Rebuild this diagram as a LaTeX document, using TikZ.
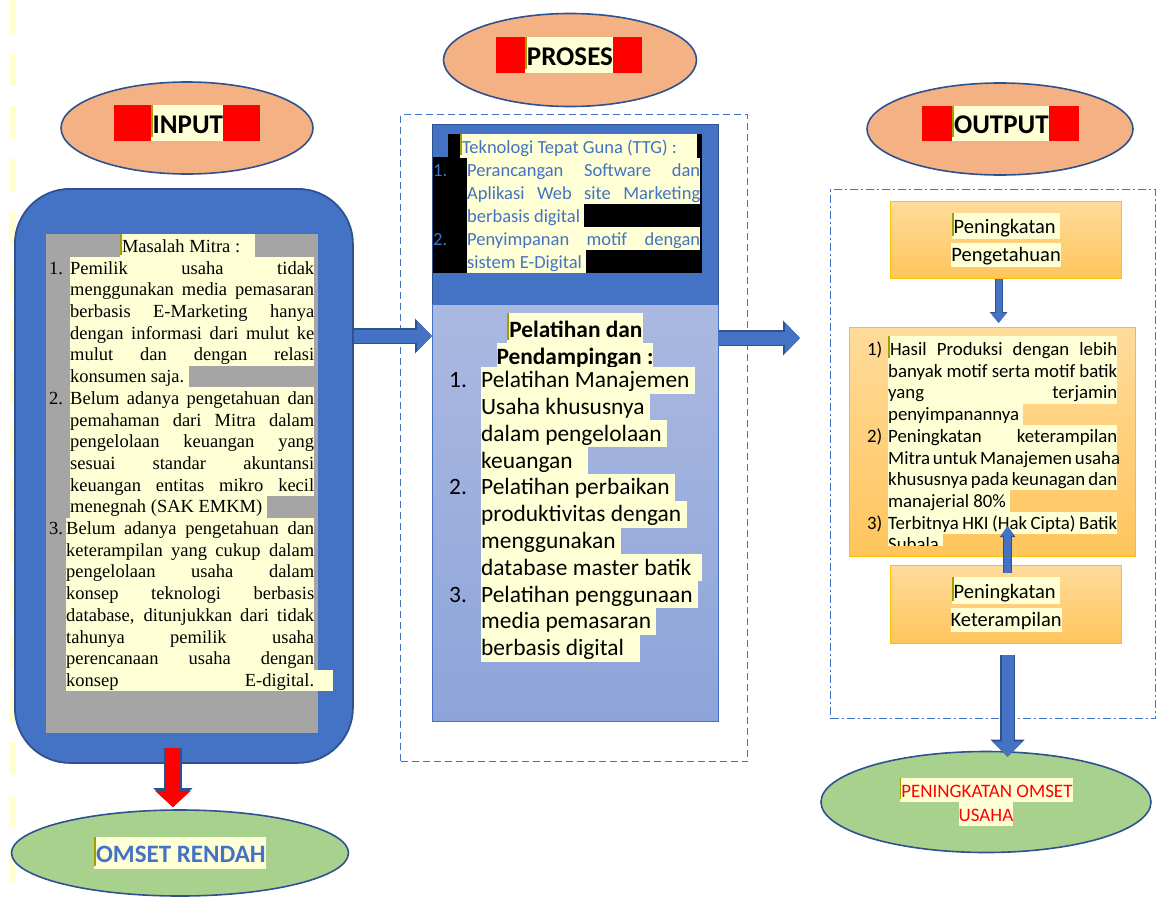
\documentclass[tikz,border=0pt]{standalone}
\usepackage{fontspec}
\setmainfont{Carlito}
\newfontfamily\serifin{Liberation Serif}
\usetikzlibrary{arrows.meta,calc,shapes.geometric}

\definecolor{mainblue}{HTML}{4472C4}
\definecolor{edgeblue}{HTML}{2F528F}
\definecolor{peach}{HTML}{F4B183}
\definecolor{leaf}{HTML}{A9D18E}
\definecolor{greybox}{HTML}{A5A5A5}
\definecolor{cream}{HTML}{FFFFD5}
\definecolor{olivebar}{HTML}{A0A000}
\definecolor{goldedge}{HTML}{FFC000}
\definecolor{goldtop}{HTML}{FFDB9A}
\definecolor{goldbot}{HTML}{FFC55C}
\definecolor{lavtop}{HTML}{ABB9E1}
\definecolor{lavbot}{HTML}{8DA4DA}
\definecolor{faintyel}{HTML}{FFFFD2}

\newcommand{\hlt}[1]{{\setlength{\fboxsep}{0pt}\colorbox{cream}{\rule[-0.22\baselineskip]{0pt}{\baselineskip}#1}}}
\newcommand{\hlj}[2]{\hlt{\makebox[#1][s]{#2}}}
\newcommand{\mk}{{\color{olivebar}\rule[-0.25ex]{1.8pt}{2.4ex}}}
\newcommand{\nm}[2]{\makebox[#1][l]{#2}}

\begin{document}
\begin{tikzpicture}[x=1pt,y=-1pt,
	ell/.style={ellipse,draw=edgeblue,line width=1.6pt,inner sep=0},
	redlab/.style={fill=red,inner sep=0,font={\bfseries\fontsize{27}{33}\selectfont}},
	goldbox/.style={draw=goldedge,line width=1.2pt,top color=goldtop,bottom color=goldbot,inner sep=0,anchor=north west},
	rim/.style={draw=edgeblue,line width=#1},
	core/.style={draw=mainblue,line width=#1}]
	\useasboundingbox (0,0) rectangle (1156,897);
	\draw[faintyel,line width=7pt,dash pattern=on 33pt off 20pt] (12,0) -- (12,897);

	\node[ell,fill=peach,minimum width=252pt,minimum height=92pt] (inell) at (187,128) {};
	\node[redlab,minimum width=146pt,minimum height=34pt] (inlab) at (187,123) {\hlt{\mk INPUT}};
	\node[ell,fill=peach,minimum width=253pt,minimum height=93pt] (prell) at (570,60) {};
	\node[redlab,minimum width=146pt,minimum height=34pt] (prlab) at (569,55) {\hlt{\mk PROSES}};
	\node[ell,fill=peach,minimum width=266pt,minimum height=92pt] (outell) at (1000,129) {};
	\node[redlab,minimum width=157pt,minimum height=35pt] (outlab) at (1000.5,123.5) {\hlt{\mk OUTPUT}};

	\node[draw=edgeblue,line width=1.8pt,fill=mainblue,rounded corners=55pt,minimum width=338pt,minimum height=574pt,anchor=north west,inner sep=0] (inp) at (14,188) {};
	\node[fill=greybox,minimum width=272pt,minimum height=499pt,anchor=north west,inner sep=0] (grey) at (46,234) {};
	\node[anchor=north west,inner sep=0,align=left,font={\serifin\fontsize{18.5}{21.7}\selectfont}] (masalah) at (49,234) {%
		\hspace*{71pt}\hlt{\makebox[135pt][l]{\mk Masalah Mitra :}}\\
		\nm{21pt}{1.}\hlj{244pt}{Pemilik usaha tidak}\\
		\hspace*{21pt}\hlj{244pt}{menggunakan media pemasaran}\\
		\hspace*{21pt}\hlj{244pt}{berbasis E-Marketing hanya}\\
		\hspace*{21pt}\hlj{244pt}{dengan informasi dari mulut ke}\\
		\hspace*{21pt}\hlj{244pt}{mulut dan dengan relasi}\\
		\hspace*{21pt}\hlt{konsumen saja.\ }\\
		\nm{21pt}{2.}\hlj{244pt}{Belum adanya pengetahuan dan}\\
		\hspace*{21pt}\hlj{244pt}{pemahaman dari Mitra dalam}\\
		\hspace*{21pt}\hlj{244pt}{pengelolaan keuangan yang}\\
		\hspace*{21pt}\hlj{244pt}{sesuai standar akuntansi}\\
		\hspace*{21pt}\hlj{244pt}{keuangan entitas mikro kecil}\\
		\hspace*{21pt}\hlt{menegnah (SAK EMKM)\ }\\
		\nm{17pt}{3.}\hlj{248pt}{Belum adanya pengetahuan dan}\\
		\hspace*{17pt}\hlj{248pt}{keterampilan yang cukup dalam}\\
		\hspace*{17pt}\hlj{248pt}{pengelolaan usaha dalam}\\
		\hspace*{17pt}\hlj{248pt}{konsep teknologi berbasis}\\
		\hspace*{17pt}\hlj{248pt}{database, ditunjukkan dari tidak}\\
		\hspace*{17pt}\hlj{248pt}{tahunya pemilik usaha}\\
		\hspace*{17pt}\hlj{248pt}{perencanaan usaha dengan}\\
		\hspace*{17pt}\hlt{\makebox[267pt][l]{\makebox[248pt][s]{konsep E-digital.}}}};

	\node[draw=mainblue,line width=1pt,dash pattern=on 7pt off 4pt,minimum width=347pt,minimum height=647pt,anchor=north west,inner sep=0] (prosbox) at (400,114) {};
	\node[draw=edgeblue,fill=mainblue,line width=1.2pt,minimum width=286pt,minimum height=180pt,anchor=north west,inner sep=0] (ttg) at (432,124) {};
	\node[draw=mainblue,line width=1.2pt,top color=lavtop,bottom color=lavbot,minimum width=286pt,minimum height=417pt,anchor=north west,inner sep=0] (pel) at (432,304) {};
	\fill (448,134) rectangle (702,157);
	\fill (433,157) rectangle (702,273);
	\node[anchor=north west,inner sep=0,align=left,text=mainblue,font={\fontsize{18.5}{23}\selectfont}] (ttgtxt) at (433,134) {%
		\hspace*{27pt}\hlt{\makebox[237pt][l]{\mk Teknologi Tepat Guna (TTG) :}}\\
		\nm{34pt}{1.}\hlj{233pt}{Perancangan Software dan}\\
		\hspace*{34pt}\hlj{233pt}{Aplikasi Web site Marketing}\\
		\hspace*{34pt}\hlt{berbasis digital\ }\\
		\nm{34pt}{2.}\hlj{233pt}{Penyimpanan motif dengan}\\
		\hspace*{34pt}\hlt{sistem E-Digital\ }};
	\node[anchor=north,inner sep=0,align=center,font={\bfseries\fontsize{23.4}{26.8}\selectfont}] (pelhead) at (575,313) {\hlt{\mk Pelatihan dan}\\\hlt{Pendampingan :}};
	\node[anchor=north west,inner sep=0,align=left,font={\fontsize{23.4}{26.8}\selectfont}] (pellist) at (449,366.6) {%
		\nm{32pt}{1.}\hlt{Pelatihan Manajemen\ }\\
		\hspace*{32pt}\hlt{Usaha khususnya\ }\\
		\hspace*{32pt}\hlt{dalam pengelolaan\ }\\
		\hspace*{32pt}\hlt{keuangan\ \ \ }\\
		\nm{32pt}{2.}\hlt{Pelatihan perbaikan\ }\\
		\hspace*{32pt}\hlt{produktivitas dengan\ }\\
		\hspace*{32pt}\hlt{menggunakan\ }\\
		\hspace*{32pt}\hlt{database master batik\ \ }\\
		\nm{32pt}{3.}\hlt{Pelatihan penggunaan\ }\\
		\hspace*{32pt}\hlt{media pemasaran\ }\\
		\hspace*{32pt}\hlt{berbasis digital\ \ \ }};

	\node[draw=mainblue,line width=1pt,dash pattern=on 8pt off 3pt on 2pt off 3pt,minimum width=325pt,minimum height=529pt,anchor=north west,inner sep=0] (outbox) at (830,189) {};
	\node[goldbox,minimum width=231pt,minimum height=77pt,align=center,font={\fontsize{20.5}{24}\selectfont}] (peng) at (890,201) {\hlt{\mk Peningkatan\ }\\[4pt]\hlt{Pengetahuan}};
	\node[goldbox,minimum width=286pt,minimum height=229pt] (hasil) at (849,327) {};
	\begin{scope}
		\clip (hasil.north west) rectangle ([yshift=12pt]hasil.south east);
		\node[anchor=north west,inner sep=0,align=left,font={\fontsize{18.8}{21.7}\selectfont}] (hasiltxt) at (867,336) {%
			\nm{21pt}{1)}\hlj{229pt}{\mk Hasil Produksi dengan lebih}\\
			\hspace*{21pt}\hlj{229pt}{banyak motif serta motif batik}\\
			\hspace*{21pt}\hlj{229pt}{yang terjamin}\\
			\hspace*{21pt}\hlt{penyimpanannya\ }\\
			\nm{21pt}{2)}\hlj{229pt}{Peningkatan keterampilan}\\
			\hspace*{21pt}\hlj{229pt}{Mitra untuk Manajemen usaha}\\
			\hspace*{21pt}\hlj{229pt}{khususnya pada keunagan dan}\\
			\hspace*{21pt}\hlt{manajerial 80\%\ }\\
			\nm{21pt}{3)}\hlj{229pt}{Terbitnya HKI (Hak Cipta) Batik}\\
			\hspace*{21pt}\hlt{Subala\ }};
	\end{scope}
	\node[goldbox,minimum width=231pt,minimum height=78pt,align=center,font={\fontsize{20.5}{24}\selectfont}] (ket) at (890,565) {\hlt{\mk Peningkatan\ }\\[4pt]\hlt{Keterampilan}};

	\node[ell,fill=leaf,minimum width=337pt,minimum height=86pt,text=mainblue,font={\bfseries\fontsize{25}{31}\selectfont}] (omset) at (180,853) {\hlt{\mk OMSET RENDAH}};
	\node[ell,fill=leaf,minimum width=330pt,minimum height=101pt,align=center,text=red,font={\fontsize{19}{24}\selectfont}] (penell) at (986,802) {\hlt{\mk PENINGKATAN OMSET}\\\hlt{USAHA}};

	\coordinate (lvl1) at (0,336);
	\coordinate (lvl2) at (0,338);
	\coordinate (outtip) at (800,338);
	\draw[rim=16pt,-{Triangle[length=17pt,width=34pt]}] (inp.east |- lvl1) -- (pel.west |- lvl1);
	\draw[core=13pt,-{Triangle[length=15pt,width=30pt]}] (inp.east |- lvl1) -- (pel.west |- lvl1);
	\draw[rim=16pt,-{Triangle[length=17pt,width=34pt]}] (pel.east |- lvl2) -- (outtip);
	\draw[core=13pt,-{Triangle[length=15pt,width=30pt]}] (pel.east |- lvl2) -- (outtip);
	\draw[rim=18pt,-{Triangle[length=19pt,width=38pt]}] ($(inp.south)+(-11,-16)$) -- ($(inp.south |- omset.north)+(-11,-2)$);
	\draw[draw=red,line width=15pt,-{Triangle[length=16pt,width=34pt]}] ($(inp.south)+(-11,-16)$) -- ($(inp.south |- omset.north)+(-11,-2)$);
	\draw[rim=8pt,-{Triangle[length=11pt,width=17pt]}] ($(peng.south)+(-7.5,0)$) -- ($(peng.south |- hasil.north)+(-7.5,-4)$);
	\draw[core=6pt,-{Triangle[length=10pt,width=15pt]}] ($(peng.south)+(-7.5,0)$) -- ($(peng.south |- hasil.north)+(-7.5,-4)$);
	\draw[rim=9pt,-{Triangle[length=11pt,width=15pt]}] ($(ket.north)+(1.5,8)$) -- ($(ket.north |- hasil.south)+(1.5,-31)$);
	\draw[core=7pt,-{Triangle[length=9.5pt,width=13pt]}] ($(ket.north)+(1.5,8)$) -- ($(ket.north |- hasil.south)+(1.5,-31)$);
	\draw[rim=15pt,-{Triangle[length=17pt,width=33pt]}] ($(ket.south)+(1.5,11)$) -- ($(ket.south |- penell.north)+(1.5,6)$);
	\draw[core=12pt,-{Triangle[length=15pt,width=29pt]}] ($(ket.south)+(1.5,11)$) -- ($(ket.south |- penell.north)+(1.5,6)$);
\end{tikzpicture}
\end{document}
